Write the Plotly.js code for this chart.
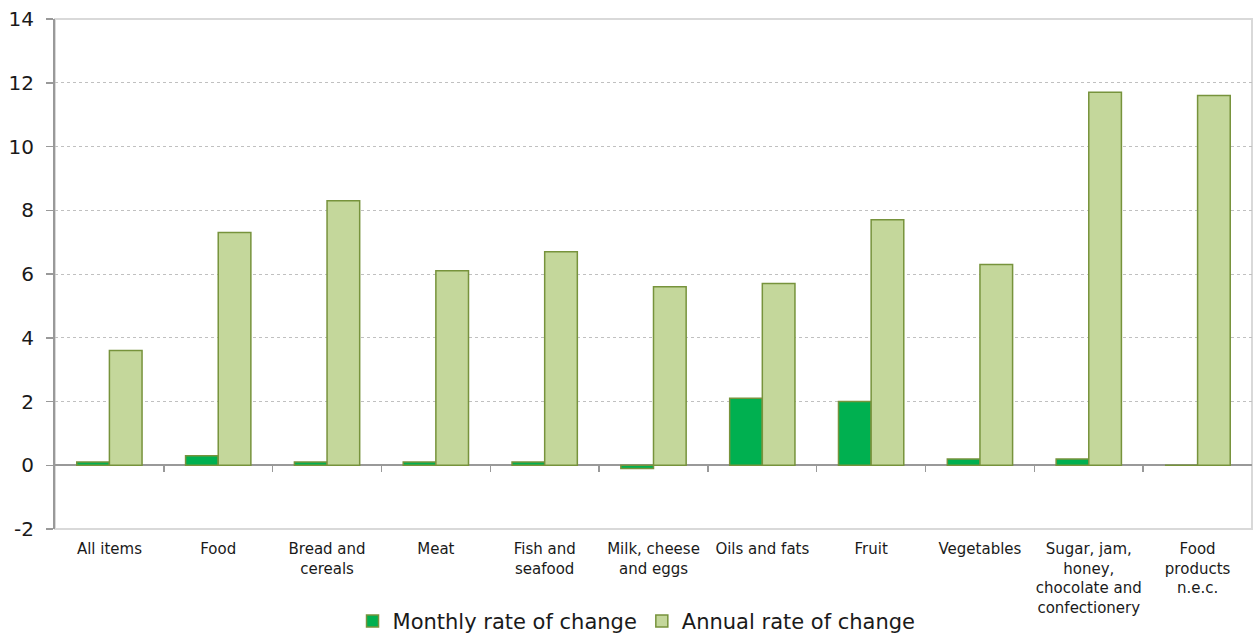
<!DOCTYPE html>
<html>
<head>
<meta charset="utf-8">
<script src="https://cdn.plot.ly/plotly-3.0.1.min.js"></script>
<style>
  html, body { margin: 0; padding: 0; background: #ffffff; }
  #chart { width: 1253px; height: 634px; }
</style>
</head>
<body>
<div id="chart"></div>
<script>
const categories = [
  "All items", "Food", "Bread and<br>cereals", "Meat", "Fish and<br>seafood",
  "Milk, cheese<br>and eggs", "Oils and fats", "Fruit", "Vegetables",
  "Sugar, jam,<br>honey,<br>chocolate and<br>confectionery", "Food<br>products<br>n.e.c."
];
const monthlyRate = [0.1, 0.3, 0.1, 0.1, 0.1, -0.1, 2.1, 2.0, 0.2, 0.2, 0.0];
const annualRate  = [3.6, 7.3, 8.3, 6.1, 6.7, 5.6, 5.7, 7.7, 6.3, 11.7, 11.6];
const seriesNames = ["Monthly rate of change", "Annual rate of change"];
const yTicks = [-2, 0, 2, 4, 6, 8, 10, 12, 14];
const yTickText = ["-2", "0", "2", "4", "6", "8", "10", "12", "14"];
const boundaryTicks = [0.5, 1.5, 2.5, 3.5, 4.5, 5.5, 6.5, 7.5, 8.5, 9.5];

const font = "DejaVu Sans, Verdana, sans-serif";
const idx = categories.map((_, i) => i);

const traces = [
  {
    type: "bar", name: seriesNames[0], x: idx, y: monthlyRate,
    marker: { color: "#00B050", line: { color: "#77933C", width: 1.5 } },
    hoverinfo: "y"
  },
  {
    type: "bar", name: seriesNames[1], x: idx, y: annualRate,
    marker: { color: "#C4D79B", line: { color: "#77933C", width: 1.5 } },
    hoverinfo: "y"
  },
  {
    type: "scatter", mode: "none", x: [], y: [], xaxis: "x2", yaxis: "y",
    showlegend: false, hoverinfo: "skip"
  }
];

const layout = {
  width: 1253, height: 634,
  margin: { l: 55, r: 1, t: 19, b: 105 },
  paper_bgcolor: "#ffffff", plot_bgcolor: "#ffffff",
  font: { family: font, color: "#1a1a1a" },
  barmode: "group", bargap: 0.4, bargroupgap: 0,
  showlegend: true,
  legend: {
    orientation: "h",
    xref: "container", x: 0.508, xanchor: "center",
    yref: "container", y: 0.02, yanchor: "middle",
    font: { size: 21, family: font, color: "#1a1a1a" },
    itemwidth: 30, traceorder: "normal"
  },
  xaxis: {
    tickmode: "array", tickvals: idx, ticktext: categories,
    range: [-0.5, categories.length - 0.5],
    showgrid: false, zeroline: false, showline: false,
    ticks: "outside", ticklen: 6, tickcolor: "rgba(0,0,0,0)",
    tickfont: { size: 15, family: font, color: "#1a1a1a" },
    tickangle: 0, fixedrange: true, automargin: false
  },
  xaxis2: {
    overlaying: "x", anchor: "free", position: 2 / 16,
    range: [-0.5, categories.length - 0.5],
    tickmode: "array", tickvals: boundaryTicks,
    ticks: "outside", ticklen: 6, tickwidth: 1.5, tickcolor: "#999999",
    showticklabels: false, showgrid: false, zeroline: false, showline: false,
    automargin: false
  },
  yaxis: {
    range: [-2, 14], tickmode: "array", tickvals: yTicks, ticktext: yTickText,
    showgrid: true, gridcolor: "#c0c0c0", griddash: "dot", gridwidth: 1,
    zeroline: true, zerolinecolor: "#999999", zerolinewidth: 2,
    showline: true, linecolor: "#999999", linewidth: 2,
    ticks: "outside", ticklen: 7, tickwidth: 1.5, tickcolor: "#999999",
    ticklabelstandoff: 8,
    tickfont: { size: 20, family: font, color: "#1a1a1a" },
    fixedrange: true, automargin: false
  },
  shapes: [
    { type: "rect", xref: "paper", yref: "paper", x0: 0, x1: 1, y0: 0, y1: 1,
      line: { color: "#d9d9d9", width: 2 }, layer: "below" }
  ]
};

Plotly.newPlot("chart", traces, layout, { displayModeBar: false, staticPlot: true });
</script>
</body>
</html>
